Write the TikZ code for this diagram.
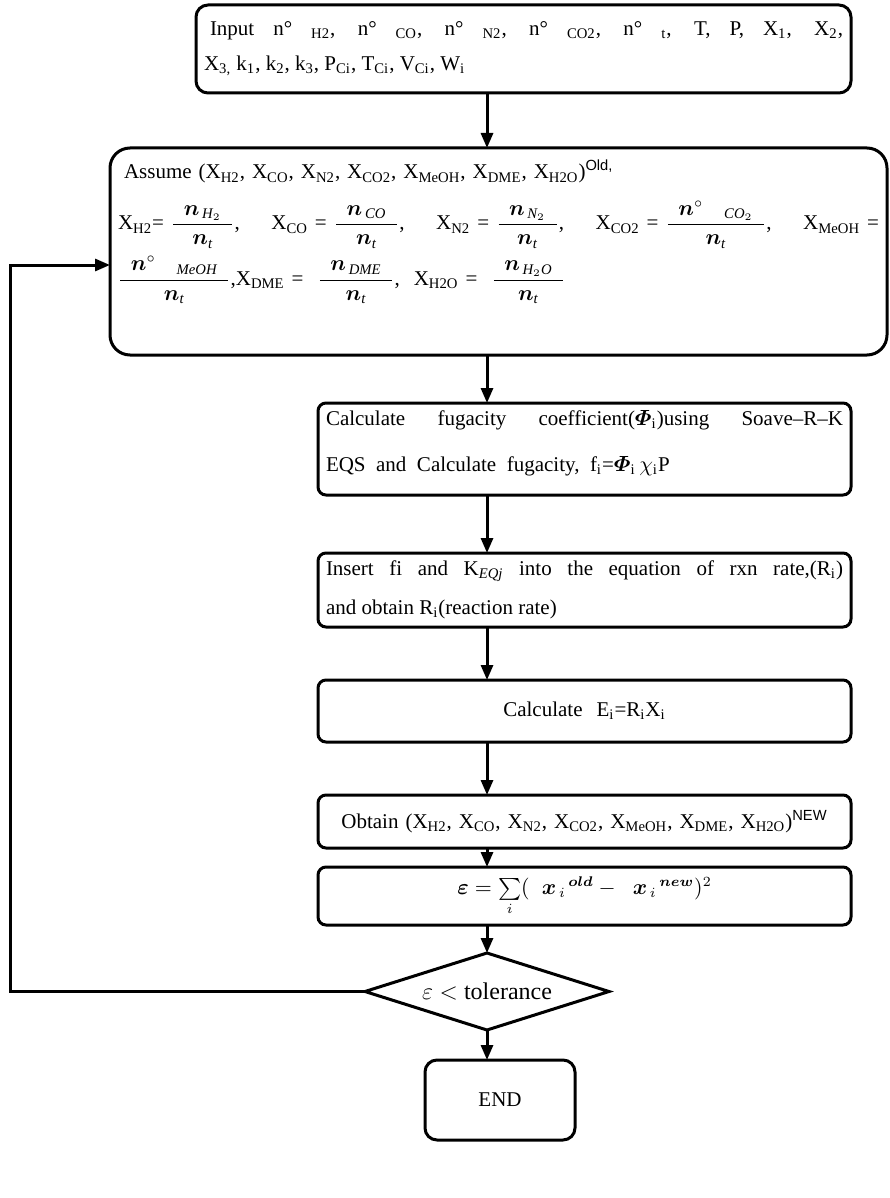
\documentclass[tikz,border=0pt]{standalone}
\usepackage{amsmath}
\usepackage{fontspec}
\setmainfont{Liberation Serif}
\setsansfont{Liberation Sans}
\usetikzlibrary{arrows.meta,positioning,shapes.geometric}
\newcommand{\ix}[1]{\textsubscript{#1}}
\newcommand{\nt}[1]{$\dfrac{\enspace#1\enspace}{\boldsymbol{n}_{\mathit{t}}}$}
\begin{document}
\begin{tikzpicture}[x=0.5pt,y=-0.5pt,
  rnd/.style={draw,line width=1.5pt,rounded corners=4pt,inner xsep=4pt,inner ysep=2pt,
    outer sep=0pt,font=\fontsize{10.5}{17.5}\selectfont,
    execute at begin node={\tolerance=10000\hyphenpenalty=10000}},
  mid/.style={rnd,text width=258.5pt},
  dec/.style={draw,diamond,aspect=3.2,line width=1.5pt,inner sep=1pt,outer sep=0pt,
    font=\fontsize{12}{16}\selectfont},
  flow/.style={-{Triangle[length=7.5pt,width=6pt]},line width=1.5pt}
]
  \useasboundingbox (0,0) rectangle (889,1198);
  \coordinate (col) at (487,0);
  \node[rnd,rounded corners=6pt,align=justify,text width=319.5pt,minimum height=44pt]
    (inp) at (523.5,49)
    {\hspace{3pt}Input n° \ix{H2}, n° \ix{CO}, n° \ix{N2}, n° \ix{CO2}, n° \ix{t}, T, P, X\ix{1}, X\ix{2},\linebreak
     X\ix{3,} k\ix{1}, k\ix{2}, k\ix{3}, P\ix{Ci}, T\ix{Ci}, V\ix{Ci}, W\ix{i}};
  \node[rnd,rounded corners=10pt,align=left,text width=380.5pt,minimum height=103.5pt,
    below=27.5pt of inp,xshift=-12.5pt] (asm)
    {\hspace{3pt}Assume (X\ix{H2}, X\ix{CO}, X\ix{N2}, X\ix{CO2}, X\ix{MeOH}, X\ix{DME}, X\ix{H2O})\textsuperscript{\sffamily Old,}\\[8pt]
     X\ix{H2}= \nt{\boldsymbol{n}_{\,\mathit{H}_2}},\hfill X\ix{CO} = \nt{\boldsymbol{n}_{\,\mathit{CO}}},\hfill
     X\ix{N2} = \nt{\boldsymbol{n}_{\,\mathit{N}_2}},\hfill X\ix{CO2} = \nt{\boldsymbol{n}^{\circ}\quad{}_{\mathit{CO}_2}},\hfill
     X\ix{MeOH} =\\[3pt]
     \nt{\boldsymbol{n}^{\circ}\quad{}_{\mathit{MeOH}}},X\ix{DME} = \ \nt{\boldsymbol{n}_{\,\mathit{DME}}},\ \ 
     X\ix{H2O} = \ \nt{\boldsymbol{n}_{\,\mathit{H}_2\mathit{O}}}\rule[-28.5pt]{0pt}{0pt}};
  \node[mid,align=justify,minimum height=46pt,font=\fontsize{10.5}{23}\selectfont,
    below=24pt of asm,xshift=43pt] (fug)
    {Calculate fugacity coefficient($\boldsymbol{\varPhi}$\ix{i})using Soave--R--K\linebreak
     EQS \ and \ Calculate \ fugacity, \ f\ix{i}=$\boldsymbol{\varPhi}$\ix{i}\,$\chi$\ix{i}P\rule[-8pt]{0pt}{0pt}};
  \node[mid,align=justify,minimum height=37pt,font=\fontsize{10.5}{19.5}\selectfont,
    below=29pt of fug] (rate)
    {Insert fi and K\ix{\textit{EQj}} into the equation of rxn rate,(R\ix{i})\linebreak
     and obtain R\ix{i}(reaction rate)};
  \node[mid,align=center,minimum height=31pt,below=26.5pt of rate] (ei)
    {Calculate \ E\ix{i}=R\ix{i}X\ix{i}};
  \node[mid,align=center,minimum height=26.5pt,below=26.5pt of ei] (obt)
    {Obtain (X\ix{H2}, X\ix{CO}, X\ix{N2}, X\ix{CO2}, X\ix{MeOH}, X\ix{DME}, X\ix{H2O})\textsuperscript{\sffamily NEW}};
  \node[mid,align=center,minimum height=29pt,below=9.5pt of obt] (err)
    {\mbox{$\boldsymbol{\varepsilon} = \sum\limits_{i}(\;\;\boldsymbol{x}_{\,i}{}^{\,\boldsymbol{old}}-\;\;\boldsymbol{x}_{\,i}{}^{\,\boldsymbol{new}})^2$}};
  \node[dec,minimum width=122pt,minimum height=38.5pt,below=14pt of err,xshift=-48.75pt] (tol)
    {$\varepsilon<$\ tolerance};
  \node[rnd,rounded corners=6pt,align=center,text width=67pt,minimum height=40pt,
    below=15pt of tol,xshift=6.5pt] (fin) {END};
  \coordinate (back) at (10,265);
  \draw[flow] (inp.south -| col) -- (asm.north -| col);
  \draw[flow] (asm.south -| col) -- (fug.north -| col);
  \draw[flow] (fug.south -| col) -- (rate.north -| col);
  \draw[flow] (rate.south -| col) -- (ei.north -| col);
  \draw[flow] (ei.south -| col) -- (obt.north -| col);
  \draw[flow] (obt.south -| col) -- (err.north -| col);
  \draw[flow] (err.south -| col) -- (tol);
  \draw[flow] (tol.south) -- (tol.south |- fin.north);
  \draw[flow] (tol.west) -| (back) -- (back -| asm.west);
\end{tikzpicture}
\end{document}
